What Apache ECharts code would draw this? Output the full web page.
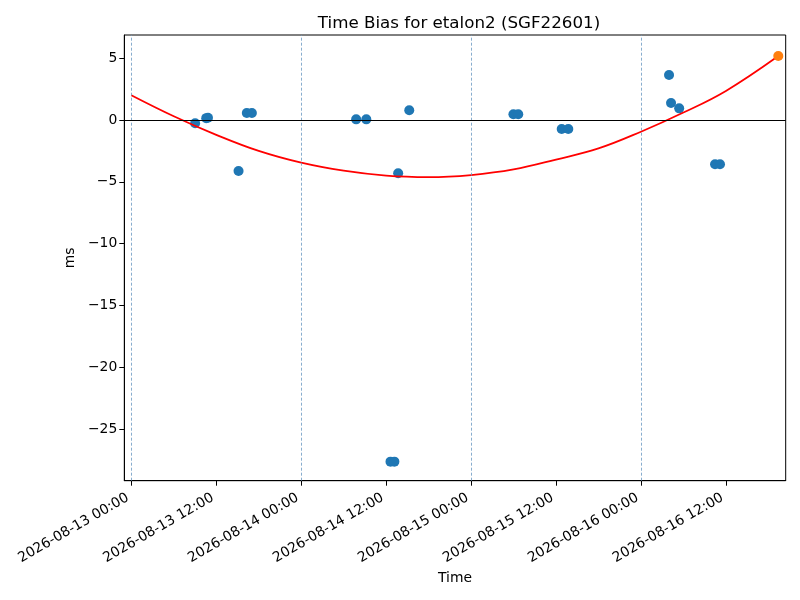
<!DOCTYPE html>
<html>
<head>
<meta charset="utf-8">
<script src="https://cdn.jsdelivr.net/npm/echarts@6/dist/echarts.min.js"></script>
<style>html,body{margin:0;padding:0;background:#fff}#c{width:800px;height:600px}</style>
</head>
<body>
<div id="c"></div>
<script>
// Measured points (UTC time)
const pointTimes = [
  '2026-08-13 09:01','2026-08-13 10:35','2026-08-13 10:50','2026-08-13 15:09',
  '2026-08-13 16:19','2026-08-13 17:02','2026-08-14 07:46','2026-08-14 09:12',
  '2026-08-14 15:16','2026-08-14 13:42','2026-08-14 12:37','2026-08-14 13:10',
  '2026-08-15 05:59','2026-08-15 06:40','2026-08-15 12:48','2026-08-15 13:44',
  '2026-08-16 03:58','2026-08-16 04:15','2026-08-16 05:24','2026-08-16 10:28',
  '2026-08-16 11:10'
];
const pointValues = [
  -0.27, 0.15, 0.18, -4.12,
  0.57, 0.57, 0.05, 0.05,
  0.78, -4.31, -27.62, -27.62,
  0.46, 0.46, -0.73, -0.73,
  3.64, 1.37, 0.94, -3.58,
  -3.58
];
// Latest point (orange)
const lastTime = ['2026-08-16 19:24'];
const lastValue = [5.17];
// Fitted curve
const fitTimes = [
  '2026-08-13 00:00','2026-08-13 06:00','2026-08-13 12:00','2026-08-13 18:00',
  '2026-08-14 00:00','2026-08-14 06:00','2026-08-14 12:00','2026-08-14 18:00',
  '2026-08-15 00:00','2026-08-15 06:00','2026-08-15 12:00','2026-08-15 18:00',
  '2026-08-16 00:00','2026-08-16 06:00','2026-08-16 12:00','2026-08-16 19:24'
];
const fitValues = [
  2.0, 0.3, -1.2, -2.5,
  -3.45, -4.1, -4.5, -4.62,
  -4.45, -4.0, -3.2, -2.3,
  -0.95, 0.6, 2.35, 5.17
];
// Midnight reference lines
const midnightTimes = ['2026-08-13 00:00','2026-08-14 00:00','2026-08-15 00:00','2026-08-16 00:00'];
// Tick labels
const xTickTimes = [
  '2026-08-13 00:00','2026-08-13 12:00','2026-08-14 00:00','2026-08-14 12:00',
  '2026-08-15 00:00','2026-08-15 12:00','2026-08-16 00:00','2026-08-16 12:00'
];
const yTickValues = [-25, -20, -15, -10, -5, 0, 5];

function ts(s) {
  const [d, t] = s.split(' ');
  const [Y, M, D] = d.split('-').map(Number);
  const [h, m] = t.split(':').map(Number);
  return Date.UTC(Y, M - 1, D, h, m);
}
function pad(n) { return (n < 10 ? '0' : '') + n; }
function fmt(v) {
  const d = new Date(v);
  return d.getUTCFullYear() + '-' + pad(d.getUTCMonth() + 1) + '-' + pad(d.getUTCDate()) +
    ' ' + pad(d.getUTCHours()) + ':' + pad(d.getUTCMinutes());
}

const DAY = 86400000;
const t0 = ts('2026-08-13 00:00');
const xMin = t0 - 0.0412 * DAY;
const xMax = t0 + 3.852 * DAY;
const FONT = 'DejaVu Sans';

const chart = echarts.init(document.getElementById('c'), null, { renderer: 'canvas' });
chart.setOption({
  animation: false,
  backgroundColor: '#fff',
  textStyle: { fontFamily: FONT },
  title: {
    text: 'Time Bias for etalon2 (SGF22601)',
    left: 454, top: 10, textAlign: 'center',
    textStyle: { fontFamily: FONT, fontSize: 16.7, fontWeight: 'normal', color: '#000' }
  },
  grid: {
    left: 124.3, right: 14.3, top: 35, bottom: 119.3,
    show: true, borderColor: '#000', borderWidth: 1, backgroundColor: 'transparent'
  },
  xAxis: {
    type: 'value', min: xMin, max: xMax, scale: true,
    name: 'Time', nameLocation: 'middle', nameGap: 90,
    nameTextStyle: { fontFamily: FONT, fontSize: 13.9, color: '#000' },
    axisLine: { show: true, onZero: false, lineStyle: { color: '#000', width: 1 } },
    axisTick: { show: true, length: 5, lineStyle: { color: '#000' }, customValues: xTickTimes.map(ts) },
    axisLabel: {
      customValues: xTickTimes.map(ts),
      formatter: v => fmt(v), rotate: 30, margin: 14, padding: [0, 4, 0, 0],
      fontFamily: FONT, fontSize: 13.9, color: '#000'
    },
    splitLine: { show: false }
  },
  yAxis: {
    type: 'value', min: -29.16, max: 6.87,
    name: 'ms', nameLocation: 'middle', nameGap: 46,
    nameTextStyle: { fontFamily: FONT, fontSize: 13.9, color: '#000' },
    axisLine: { show: true, onZero: false, lineStyle: { color: '#000', width: 1 } },
    axisTick: { show: true, length: 5, lineStyle: { color: '#000' }, customValues: yTickValues },
    axisLabel: {
      customValues: yTickValues, margin: 7,
      formatter: v => (v < 0 ? '\u2212' + Math.abs(v) : String(v)),
      fontFamily: FONT, fontSize: 13.9, color: '#000'
    },
    splitLine: { show: false }
  },
  series: [
    {
      type: 'line', data: [], silent: true,
      markLine: {
        symbol: ['none', 'none'], silent: true, label: { show: false },
        lineStyle: { color: '#6a98c2', type: [3, 2], width: 0.8 },
        data: midnightTimes.map(t => ({ xAxis: ts(t) }))
      }
    },
    {
      type: 'line', data: [], silent: true,
      markLine: {
        symbol: ['none', 'none'], silent: true, label: { show: false },
        lineStyle: { color: '#000', type: 'solid', width: 1 },
        data: [{ yAxis: 0 }]
      }
    },
    {
      type: 'scatter', symbolSize: 10, z: 3,
      itemStyle: { color: '#1f77b4', opacity: 1 },
      data: pointTimes.map((t, i) => [ts(t), pointValues[i]])
    },
    {
      type: 'line', smooth: 0.4, showSymbol: false, z: 4,
      lineStyle: { color: '#ff0000', width: 1.8 },
      data: fitTimes.map((t, i) => [ts(t), fitValues[i]])
    },
    {
      type: 'scatter', symbolSize: 10, z: 5,
      itemStyle: { color: '#ff7f0e', opacity: 1 },
      data: lastTime.map((t, i) => [ts(t), lastValue[i]])
    }
  ]
});
</script>
</body>
</html>
